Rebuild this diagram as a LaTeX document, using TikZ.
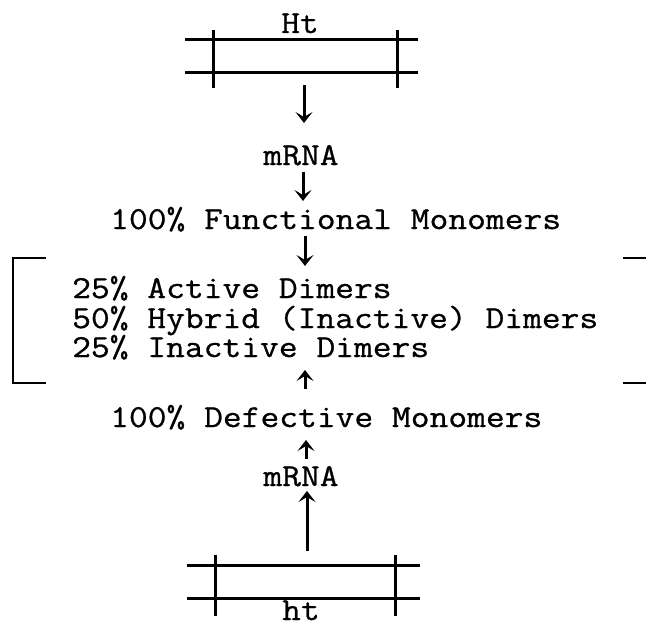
\documentclass[tikz,border=0pt]{standalone}
\usepackage{fontspec}
\setmonofont{Latin Modern Mono}[FakeStretch=1.14,FakeBold=0.8]
\usetikzlibrary{arrows.meta}
\tikzset{
  txt/.style={inner sep=0pt, font=\fontsize{32}{36}\selectfont\ttfamily},
  gene/.style={line width=3pt},
  tick/.style={line width=3pt},
  brk/.style={line width=2.8pt},
  arr/.style={line width=3pt, -{Stealth[length=11pt,width=17pt,inset=5pt]}}
}
\begin{document}
\begin{tikzpicture}[x=1pt,y=-1pt]
\useasboundingbox[fill=white] (0,0) rectangle (646,626);
% top gene
\node[txt, anchor=base] (Ht) at (300,33) {Ht};
\draw[gene] (185,40) -- (418,40);
\draw[gene] (185,73) -- (418,73);
\draw[tick] (213,30) -- (213,88);
\draw[tick] (397,30) -- (397,88);
\coordinate (g1) at (304,85);
\coordinate (g1e) at (304,123);
\draw[arr] (g1) -- (g1e);
% mRNA top
\node[txt, anchor=base] (m1) at (301,165) {mRNA};
\coordinate (m1s) at (303,172);
\coordinate (m1e) at (303,201);
\draw[arr] (m1s) -- (m1e);
\node[txt, anchor=base west] (fm) at (110,229) {100\% Functional Monomers};
\coordinate (fms) at (305,236);
\coordinate (fme) at (305,266);
\draw[arr] (fms) -- (fme);
% bracket
\draw[brk] (46,258) -- (13,258) -- (13,383) -- (46,383);
\draw[brk] (623,258) -- (646,258);
\draw[brk] (623,383) -- (646,383);
\node[txt, anchor=base west] (d1) at (72,298) {25\% Active Dimers};
\node[txt, anchor=base west] (d2) at (72,328) {50\% Hybrid (Inactive) Dimers};
\node[txt, anchor=base west] (d3) at (72,357) {25\% Inactive Dimers};
% lower part
\coordinate (dms) at (305,389);
\coordinate (dme) at (305,370);
\draw[arr] (dms) -- (dme);
\node[txt, anchor=base west] (dm) at (110,427) {100\% Defective Monomers};
\coordinate (m2s) at (306,459);
\coordinate (m2e) at (306,440);
\draw[arr] (m2s) -- (m2e);
\node[txt, anchor=base] (m2) at (301,486) {mRNA};
\coordinate (g2) at (307,551);
\coordinate (g2e) at (307,491);
\draw[arr] (g2) -- (g2e);
\draw[gene] (187,565) -- (420,565);
\draw[gene] (187,598) -- (420,598);
\draw[tick] (215,555) -- (215,616);
\draw[tick] (395,555) -- (395,616);
\node[txt, anchor=base] (ht) at (301,620) {ht};
\end{tikzpicture}
\end{document}
